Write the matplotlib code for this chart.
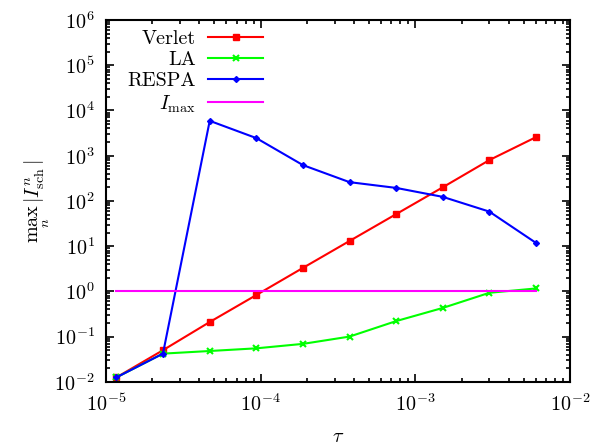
import numpy as np
import matplotlib
matplotlib.use("Agg")
import matplotlib.pyplot as plt
from matplotlib.ticker import LogLocator, NullFormatter

plt.rcParams["font.family"] = "cmr10"
plt.rcParams["mathtext.fontset"] = "cm"
plt.rcParams["axes.formatter.use_mathtext"] = True

# step sizes (doubling)
tau = [1.17e-5, 2.34e-5, 4.69e-5, 9.38e-5, 1.875e-4, 3.75e-4, 7.5e-4, 1.5e-3, 3.0e-3, 6.0e-3]
verlet = [0.0125, 0.05, 0.21, 0.83, 3.3, 13, 51, 200, 800, 2570]
la = [0.0125, 0.042, 0.048, 0.055, 0.069, 0.1, 0.22, 0.43, 0.93, 1.16]
respa = [0.0125, 0.042, 5900, 2450, 620, 260, 194, 123, 58, 11.8]
imax = [1.0] * len(tau)

fig = plt.figure(figsize=(5.91, 4.45), dpi=100)
ax = fig.add_axes([0.179, 0.142, 0.786, 0.813])

ax.plot(tau, verlet, color="red", lw=1.5, marker="s", ms=5, label="Verlet")
ax.plot(tau, la, color="#00ff00", lw=1.5, marker="x", ms=5, mew=1.5, label="LA")
ax.plot(tau, respa, color="blue", lw=1.5, marker="D", ms=3, label="RESPA")
ax.plot(tau, imax, color="magenta", lw=1.5, label=r"$I_{\rm max}$")

ax.set_xscale("log")
ax.set_yscale("log")
ax.set_xlim(1e-5, 1e-2)
ax.set_ylim(1e-2, 1e6)

ax.xaxis.set_major_locator(LogLocator(base=10, numticks=10))
ax.xaxis.set_minor_locator(LogLocator(base=10, subs=np.arange(2, 10), numticks=20))
ax.yaxis.set_major_locator(LogLocator(base=10, numticks=20))
ax.yaxis.set_minor_locator(LogLocator(base=10, subs=np.arange(2, 10), numticks=20))
ax.xaxis.set_minor_formatter(NullFormatter())
ax.yaxis.set_minor_formatter(NullFormatter())

ax.tick_params(which="both", direction="in", top=True, right=True, width=1.2, labelsize=14.5)
ax.tick_params(which="major", length=6, pad=8)
ax.tick_params(which="minor", length=3)
for s in ax.spines.values():
    s.set_linewidth(1.5)

ax.set_xlabel(r"$\tau$", fontsize=14.5, labelpad=10)
ax.set_ylabel(r"$\max_n\,|I^n_{\rm sch}|$", fontsize=14.5, labelpad=2)

ax.legend(loc="upper left", frameon=False, markerfirst=False, fontsize=14.5,
          handlelength=2.75, labelspacing=0.15, borderaxespad=0.1, handletextpad=0.6,
          bbox_to_anchor=(0.025, 1.0))

fig.savefig("out.png", dpi=100)
